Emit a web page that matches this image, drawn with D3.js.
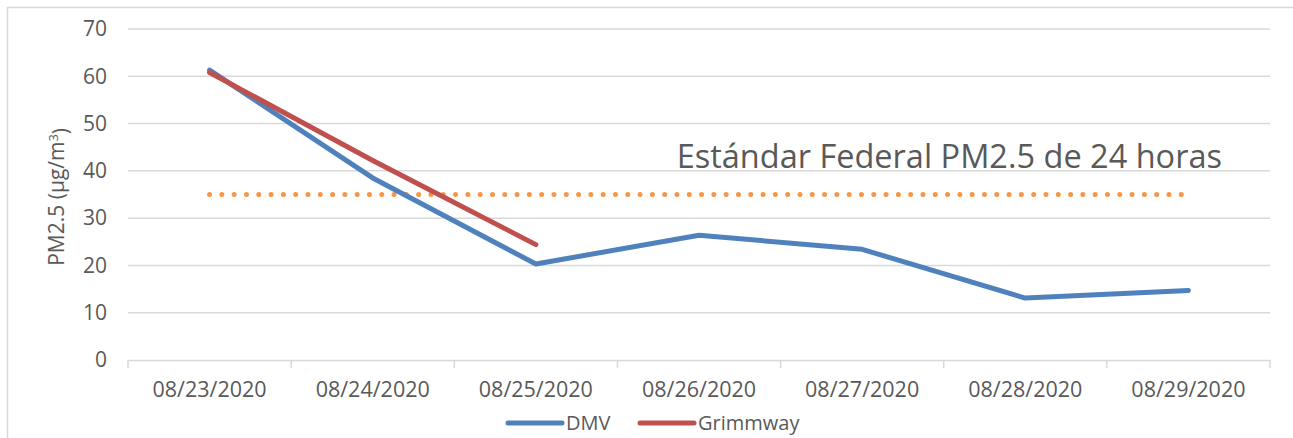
<!DOCTYPE html>
<html>
<head>
<meta charset="utf-8">
<script src="https://cdn.jsdelivr.net/npm/d3@7"></script>
<style>
  body { margin: 0; background: #fff; }
  svg text { font-family: "Open Sans", "Noto Sans", sans-serif; fill: #595959; }
</style>
</head>
<body>
<div class="plot"></div>
<script>
// chart data
let dates = ["08/23/2020", "08/24/2020", "08/25/2020", "08/26/2020", "08/27/2020", "08/28/2020", "08/29/2020"]
let dmv = [61.3, 38.5, 20.3, 26.4, 23.4, 13.1, 14.7]
let grimmway = [60.8, 42.2, 24.4]
let yTicks = [0, 10, 20, 30, 40, 50, 60, 70]
let standard = 35
let standardSpan = [0, 5.96] // in category index units
let standardLabel = "Estándar Federal PM2.5 de 24 horas"
let seriesNames = ["DMV", "Grimmway"]
let seriesColors = ["#4F81BD", "#C0504D"]

let width = 1293, height = 438
let margin = {top: 29, right: 23, bottom: 78, left: 128}

let svg = d3.select(".plot").append("svg")
    .attr("width", width)
    .attr("height", height)

// outer chart frame
svg.append("rect")
    .attr("x", 7.5).attr("y", 7.5)
    .attr("width", 1400).attr("height", 500)
    .attr("fill", "none")
    .attr("stroke", "#D9D9D9")
    .attr("stroke-width", 1.5)

let x = d3.scaleBand()
    .domain(dates)
    .range([margin.left, width - margin.right])
let xi = d3.scaleLinear()
    .domain([0, dates.length - 1])
    .range([x(dates[0]) + x.bandwidth() / 2, x(dates[dates.length - 1]) + x.bandwidth() / 2])
let y = d3.scaleLinear()
    .domain([0, 70])
    .range([height - margin.bottom, margin.top])

// gridlines
svg.append("g")
    .selectAll("line")
    .data(yTicks.filter(d => d > 0))
    .enter().append("line")
    .attr("x1", margin.left).attr("x2", width - margin.right)
    .attr("y1", d => y(d)).attr("y2", d => y(d))
    .attr("stroke", "#D9D9D9")
    .attr("stroke-width", 1.5)

// y axis labels
let yAxis = d3.axisLeft(y).tickValues(yTicks).tickSize(0).tickPadding(0)
let gy = svg.append("g")
    .attr("transform", "translate(" + (margin.left - 21) + ",0)")
    .call(yAxis)
gy.select(".domain").remove()
gy.selectAll("text").style("font-size", "21px").attr("fill", "#595959")

// x axis
let xAxis = d3.axisBottom(x).tickSize(0).tickPadding(22)
let gx = svg.append("g")
    .attr("transform", "translate(0," + y(0) + ")")
    .call(xAxis)
gx.select(".domain").attr("stroke", "#D9D9D9").attr("stroke-width", 1.5)
gx.selectAll("text").style("font-size", "21.5px").attr("fill", "#595959")
// tick marks at band boundaries
svg.append("g")
    .selectAll("line")
    .data(dates.map(d => x(d)).concat([x(dates[dates.length - 1]) + x.bandwidth()]))
    .enter().append("line")
    .attr("x1", d => d).attr("x2", d => d)
    .attr("y1", y(0)).attr("y2", y(0) + 8)
    .attr("stroke", "#D9D9D9")
    .attr("stroke-width", 1.5)

// standard line
svg.append("line")
    .attr("x1", xi(standardSpan[0])).attr("x2", xi(standardSpan[1]))
    .attr("y1", y(standard)).attr("y2", y(standard))
    .attr("stroke", "#F79646")
    .attr("stroke-width", 5)
    .attr("stroke-linecap", "round")
    .attr("stroke-dasharray", "0 12.3")

svg.append("text")
    .attr("x", 1222)
    .attr("y", 168)
    .attr("text-anchor", "end")
    .style("font-size", "32.5px")
    .text(standardLabel)

// series lines
let line = d3.line()
    .x((d, i) => x(dates[i]) + x.bandwidth() / 2)
    .y(d => y(d))

let series = [dmv, grimmway]
series.forEach(function(s, k) {
  svg.append("path")
      .datum(s)
      .attr("d", line)
      .attr("fill", "none")
      .attr("stroke", seriesColors[k])
      .attr("stroke-width", 5)
      .attr("stroke-linejoin", "round")
      .attr("stroke-linecap", "round")
})

// y axis title
let title = svg.append("text")
    .attr("transform", "translate(64," + y(34.5) + ") rotate(-90)")
    .attr("text-anchor", "middle")
    .style("font-size", "21px")
title.append("tspan").text("PM2.5 (µg/m")
title.append("tspan")
    .attr("dy", "-0.45em")
    .style("font-size", "13px")
    .text("3")
title.append("tspan")
    .attr("dy", "0.45em")
    .text(")")

// legend
let legendX = [508, 640]
let legend = svg.selectAll(".legend")
    .data(seriesNames)
    .enter().append("g")
    .attr("class", "legend")
    .attr("transform", (d, i) => "translate(" + legendX[i] + ",423)")
legend.append("line")
    .attr("x1", 0).attr("x2", 54)
    .attr("stroke", (d, i) => seriesColors[i])
    .attr("stroke-width", 5)
    .attr("stroke-linecap", "round")
legend.append("text")
    .attr("x", 58)
    .attr("dy", "0.35em")
    .style("font-size", "20px")
    .text(d => d)
</script>
</body>
</html>
